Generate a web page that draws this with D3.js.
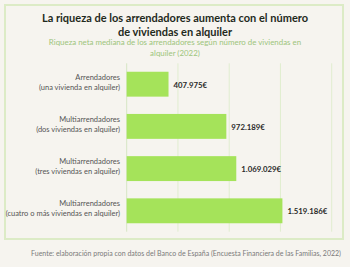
<!DOCTYPE html>
<html><head><meta charset="utf-8">
<script src="https://cdn.jsdelivr.net/npm/d3@7"></script>
<style>
html,body{margin:0;padding:0;background:#f6f4ef;}
svg{display:block;font-family:Lato,"Open Sans",sans-serif;}
</style></head>
<body>
<svg id="c" width="350" height="267"></svg>
<script>
const categoriesLine1 = ["Arrendadores","Multiarrendadores","Multiarrendadores","Multiarrendadores"];
const categoriesLine2 = ["(una vivienda en alquiler)","(dos viviendas en alquiler)","(tres viviendas en alquiler)","(cuatro o más viviendas en alquiler)"];
const values = [407975, 972189, 1069029, 1519186];
const valueLabels = ["407.975€","972.189€","1.069.029€","1.519.186€"];
const tickValues = [0, 500000, 1000000, 1500000, 2000000];
const titleLines = ["La riqueza de los arrendadores aumenta con el número","de viviendas en alquiler"];
const subtitleLines = ["Riqueza neta mediana de los arrendadores según número de viviendas en","alquiler (2022)"];
const source = "Fuente: elaboración propia con datos del Banco de España (Encuesta Financiera de las Familias, 2022)";

const svg = d3.select("#c");
svg.append("rect").attr("x",5).attr("y",5).attr("width",338).attr("height",234)
  .attr("fill","#f6f4ef").attr("stroke","#dcebc6").attr("stroke-width",2);

svg.append("g").selectAll("text").data(titleLines).join("text")
  .attr("x",175).attr("y",(d,i)=>21.5+i*14).attr("text-anchor","middle")
  .attr("font-size",11).attr("font-weight","bold").attr("fill","#1f2a1c").text(d=>d);
svg.append("g").selectAll("text").data(subtitleLines).join("text")
  .attr("x",175).attr("y",(d,i)=>44.5+i*11).attr("text-anchor","middle")
  .attr("font-size",7.9).attr("fill","#9dc47c").text(d=>d);

const x = d3.scaleLinear().domain([0,2000000]).range([126.7,331.7]);
const idx = d3.range(values.length);
const y = d3.scaleBand().domain(idx).range([63.3,231.7]).paddingInner(0.41).paddingOuter(0.2);

svg.append("g").selectAll("line").data(tickValues).join("line")
  .attr("x1",d=>x(d)).attr("x2",d=>x(d)).attr("y1",63.3).attr("y2",231.7)
  .attr("stroke",(d,i)=>i===0?"#d6e6c4":"#e0edcf").attr("stroke-width",1);

svg.append("g").selectAll("rect").data(idx).join("rect")
  .attr("x",x(0)).attr("y",i=>y(i)).attr("width",i=>x(values[i])-x(0)).attr("height",y.bandwidth())
  .attr("fill","#a5e35a");

svg.append("g").selectAll("text").data(idx).join("text")
  .attr("x",i=>x(values[i])+5).attr("y",i=>y(i)+y.bandwidth()/2+3.5)
  .attr("font-size",7.8).attr("font-weight","bold").attr("fill","#2a2a2a").text(i=>valueLabels[i]);

const lab = svg.append("g").selectAll("text").data(idx).join("text")
  .attr("text-anchor","end").attr("font-size",7.5).attr("fill","#555");
lab.append("tspan").attr("x",120).attr("y",i=>y(i)+y.bandwidth()/2-4.4).text(i=>categoriesLine1[i]);
lab.append("tspan").attr("x",120).attr("y",i=>y(i)+y.bandwidth()/2+5.6).text(i=>categoriesLine2[i]);

svg.append("text").attr("x",186).attr("y",256).attr("text-anchor","middle")
  .attr("font-size",7).attr("fill","#7a7a7a").text(source);
</script>
</body></html>
